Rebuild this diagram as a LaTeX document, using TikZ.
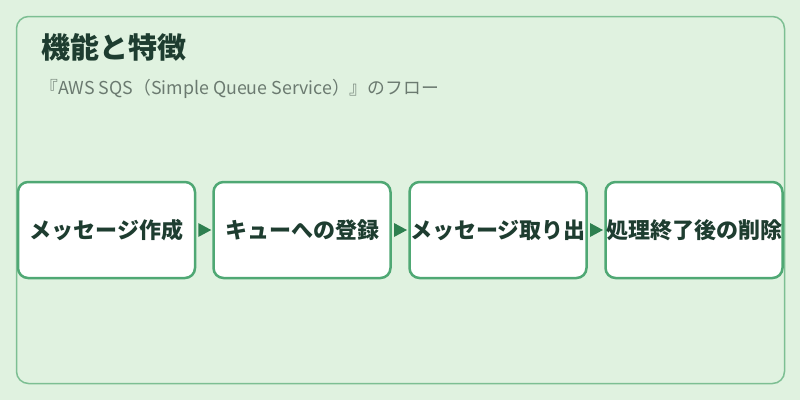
\documentclass[tikz,border=0pt]{standalone}
\usepackage{fontspec}
\setmainfont{Noto Sans CJK JP}
\usetikzlibrary{arrows.meta}
\definecolor{bgc}{HTML}{E0F2E0}
\definecolor{panelc}{HTML}{7DBF93}
\definecolor{boxc}{HTML}{4FA874}
\definecolor{arrc}{HTML}{2E8050}
\definecolor{titlec}{HTML}{1E3D30}
\definecolor{subc}{HTML}{6B7A70}
\begin{document}
\begin{tikzpicture}[x=1pt,y=-1pt,
  stepbox/.style={draw=boxc,line width=2.5pt,fill=white,rounded corners=10pt,
    minimum width=177pt,minimum height=96pt,inner sep=0pt,font=\fontsize{22}{26}\selectfont\bfseries,text=titlec},
  flowarrow/.style={draw=none,fill=arrc}]
\useasboundingbox (0,0) rectangle (800,400);
\fill[bgc] (0,0) rectangle (800,400);
\draw[panelc,line width=1.5pt,rounded corners=12pt] (16.5,16.5) rectangle (784.5,383.5);
\node[anchor=west,text=titlec,font=\fontsize{29}{33}\selectfont\bfseries,inner sep=0pt] (title) at (41,47) {機能と特徴};
\node[anchor=west,text=subc,font=\fontsize{17.8}{21}\selectfont,inner sep=0pt] (sub) at (40,89) {『AWS SQS（Simple Queue Service）』のフロー};
\node[stepbox] (b1) at (106.5,230) {メッセージ作成};
\node[stepbox] (b2) at (302,230) {キューへの登録};
\node[stepbox] (b3) at (498,230) {メッセージ取り出};
\node[stepbox] (b4) at (694,230) {処理終了後の削除};
\foreach \a/\b in {b1/b2,b2/b3,b3/b4}{
  \path (\a.east) -- (\b.west) coordinate[pos=0.5] (m\a);
  \fill[flowarrow] ([xshift=-6pt,yshift=-7pt]m\a) -- ([xshift=7pt]m\a) -- ([xshift=-6pt,yshift=7pt]m\a) -- cycle;
}
\end{tikzpicture}
\end{document}
